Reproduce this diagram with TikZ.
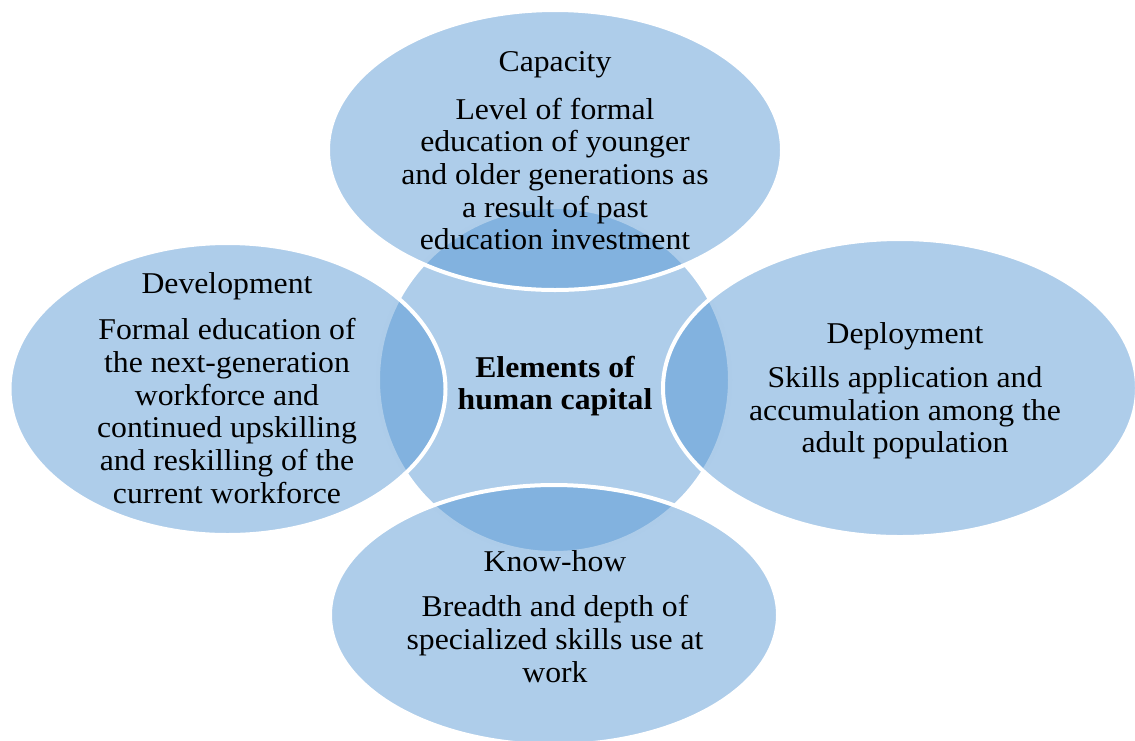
\documentclass[tikz,border=0pt]{standalone}
\usepackage{fontspec}
\setmainfont{Liberation Serif}[FakeStretch=1.05]
\usetikzlibrary{shapes.geometric}
\definecolor{venn}{RGB}{82,148,210}
\begin{document}
\begin{tikzpicture}[x=1pt,y=-1pt,
  blob/.style={ellipse, draw=white, line width=4pt, fill=venn, fill opacity=0.47, inner sep=0},
  txt/.style={align=center, inner sep=0, font=\fontsize{30.2}{32.7}\selectfont, text=black},
]
\useasboundingbox (0,0) rectangle (1135,740);
\clip (0,0) rectangle (1135,740);
\node[blob, minimum width=352pt, minimum height=346pt] (core) at (554,380) {};
\node[blob, minimum width=454pt, minimum height=280pt] (cap) at (555,150) {};
\node[blob, minimum width=436pt, minimum height=292pt] (dev) at (227.5,389) {};
\node[blob, minimum width=474pt, minimum height=298pt] (dep) at (900,388) {};
\node[blob, minimum width=448pt, minimum height=260pt] (know) at (554,615) {};

\node[txt] (capT) at (555,65) {Capacity};
\node[txt] (capB) at (555,174) {Level of formal\\education of younger\\and older generations as\\a result of past\\education investment};
\node[txt] (devT) at (227,286) {Development};
\node[txt] (devB) at (227,411) {Formal education of\\the next-generation\\workforce and\\continued upskilling\\and reskilling of the\\current workforce};
\node[txt] (depT) at (905,336) {Deployment};
\node[txt] (depB) at (905,413) {Skills application and\\accumulation among the\\adult population};
\node[txt] (knowT) at (555,561) {Know-how};
\node[txt] (knowB) at (555,639) {Breadth and depth of\\specialized skills use at\\work};
\node[txt, font=\fontsize{30.2}{32.7}\selectfont\bfseries] (coreT) at (555,386) {Elements of\\human capital};
\end{tikzpicture}
\end{document}
